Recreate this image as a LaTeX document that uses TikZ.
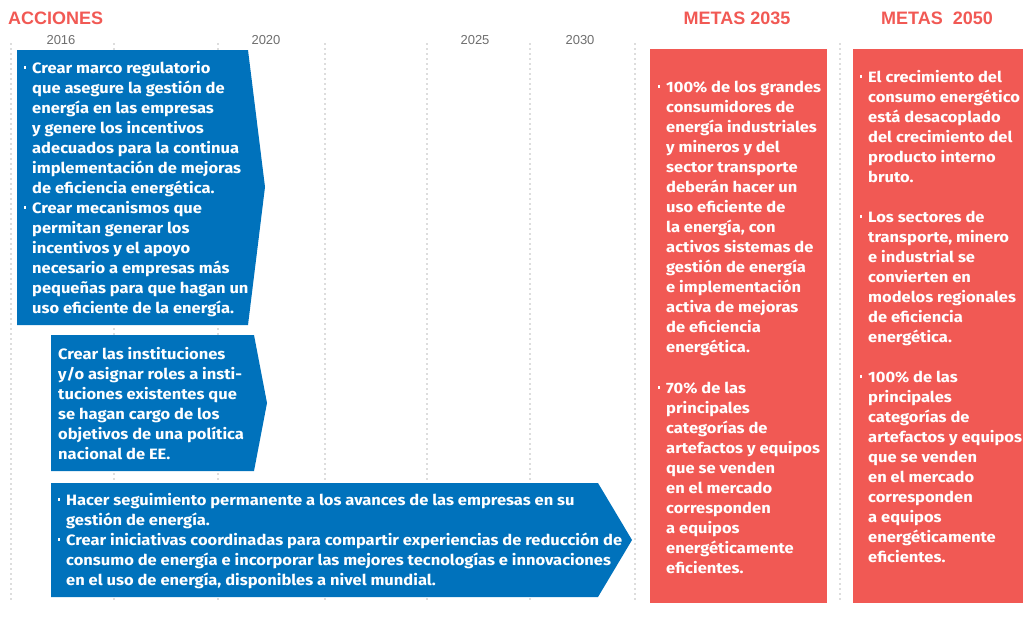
\documentclass[tikz,border=0pt]{standalone}
\usepackage{fontspec}
\setmainfont{Fira Sans}[FakeStretch=1.1]
\newfontfamily\headfont{Liberation Sans}
\usetikzlibrary{positioning}

\definecolor{azul}{RGB}{0,114,188}
\definecolor{rojo}{RGB}{241,89,84}
\definecolor{gris}{RGB}{110,110,110}

% small square bullet hanging left of the text
\newcommand{\bul}{\llap{\rule[0.3em]{2.6pt}{2.6pt}\hspace{6pt}}}

\begin{document}
\begin{tikzpicture}[
    x=1pt, y=-1pt,
    guia/.style={gris, line width=1.3pt, dash pattern=on 0pt off 5pt, line cap=round},
    titulo/.style={anchor=base, inner sep=0pt, text=rojo, font=\headfont\fontsize{18}{20}\selectfont\bfseries},
    anio/.style={anchor=base, inner sep=0pt, text=gris, font=\headfont\fontsize{13}{15}\selectfont},
    txt/.style={anchor=base west, inner sep=0pt, align=left, text=white, font=\fontsize{15}{20}\selectfont\bfseries}
]
\useasboundingbox (0,0) rectangle (1025,621);
% --- dotted guide lines ---
\foreach \gx in {11,114,218,325,427,530,635,840}
  \draw[guia] (\gx,44) -- (\gx,603);
% --- headers ---
\node[titulo, anchor=base west] (acc) at (8,24) {ACCIONES};
\node[titulo] (m35) at (737,24) {METAS 2035};
\node[titulo] (m50) at (937,24) {METAS \ 2050};
% --- years ---
\node[anio] (a16) at (61,44) {2016};
\node[anio] (a20) at (266,44) {2020};
\node[anio] (a25) at (475,44) {2025};
\node[anio] (a30) at (580,44) {2030};
% --- action chevrons ---
\fill[azul] (17,50) -- (248,50) -- (265,187) -- (248,325) -- (17,325) -- cycle;
\fill[azul] (51,335) -- (254,335) -- (267,403) -- (254,471) -- (51,471) -- cycle;
\fill[azul] (51,483) -- (598,483) -- (632,540) -- (598,597) -- (51,597) -- cycle;
% --- goal columns ---
\fill[rojo] (650,49) rectangle (827,603);
\fill[rojo] (853,49) rectangle (1023,603);
% --- texts (placed at the baseline of their last line) ---
\node[txt] (acc1) at (32,313) {\bul Crear marco regulatorio\\
  que asegure la gestión de\\
  energía en las empresas\\
  y genere los incentivos\\
  adecuados para la continua\\
  implementación de mejoras\\
  de eficiencia energética.\\
  \bul Crear mecanismos que\\
  permitan generar los\\
  incentivos y el apoyo\\
  necesario a empresas más\\
  pequeñas para que hagan un\\
  uso eficiente de la energía.};
\node[txt] (acc2) at (58,459) {Crear las instituciones\\
  y/o asignar roles a insti-\\
  tuciones existentes que\\
  se hagan cargo de los\\
  objetivos de una política\\
  nacional de EE.};
\node[txt] (acc3) at (66,585) {\bul Hacer seguimiento permanente a los avances de las empresas en su\\
  gestión de energía.\\
  \bul Crear iniciativas coordinadas para compartir experiencias de reducción de\\
  consumo de energía e incorporar las mejores tecnologías e innovaciones\\
  en el uso de energía, disponibles a nivel mundial.};
\node[txt] (met35) at (666,573) {\bul 100\% de los grandes\\
  consumidores de\\
  energía industriales\\
  y mineros y del\\
  sector transporte\\
  deberán hacer un\\
  uso eficiente de\\
  la energía, con\\
  activos sistemas de\\
  gestión de energía\\
  e implementación\\
  activa de mejoras\\
  de eficiencia\\
  energética.\\[21pt]
  \bul 70\% de las\\
  principales\\
  categorías de\\
  artefactos y equipos\\
  que se venden\\
  en el mercado\\
  corresponden\\
  a equipos\\
  energéticamente\\
  eficientes.};
\node[txt] (met50) at (868,562) {\bul El crecimiento del\\
  consumo energético\\
  está desacoplado\\
  del crecimiento del\\
  producto interno\\
  bruto.\\[20pt]
  \bul Los sectores de\\
  transporte, minero\\
  e industrial se\\
  convierten en\\
  modelos regionales\\
  de eficiencia\\
  energética.\\[20pt]
  \bul 100\% de las\\
  principales\\
  categorías de\\
  artefactos y equipos\\
  que se venden\\
  en el mercado\\
  corresponden\\
  a equipos\\
  energéticamente\\
  eficientes.};
\end{tikzpicture}
\end{document}
